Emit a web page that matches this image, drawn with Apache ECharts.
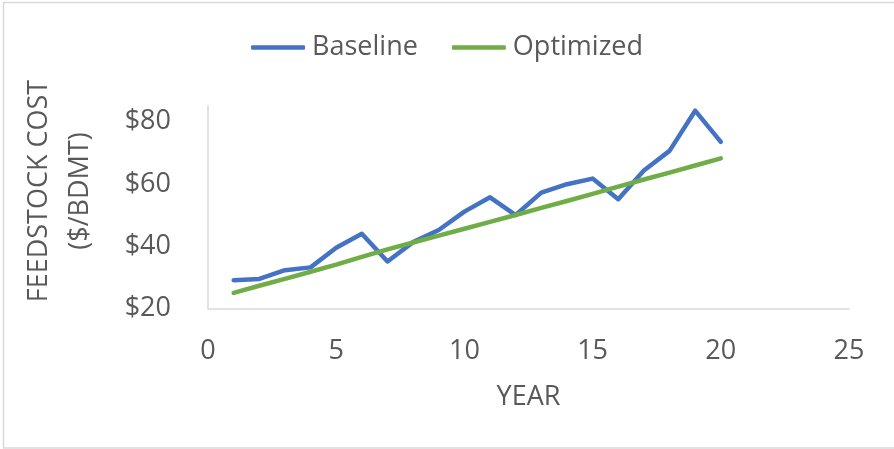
<!DOCTYPE html>
<html>
<head>
<meta charset="utf-8">
<script src="https://cdn.jsdelivr.net/npm/echarts@6/dist/echarts.min.js"></script>
<style>
  html, body { margin: 0; padding: 0; background: #fff; }
  #chart { width: 894px; height: 449px; }
</style>
</head>
<body>
<div id="chart"></div>
<script>
// Feedstock cost per bone-dry metric ton, by project year
const years = [1, 2, 3, 4, 5, 6, 7, 8, 9, 10, 11, 12, 13, 14, 15, 16, 17, 18, 19, 20];
const baseline = [29.1, 29.5, 32.3, 33.2, 39.5, 44.0, 35.1, 41.3, 45.2, 51.1, 55.7, 50.0, 57.2, 59.9, 61.7, 55.1, 64.3, 70.6, 83.5, 73.5];
const optimized = [25.0, 27.3, 29.5, 31.8, 34.1, 36.6, 39.0, 41.2, 43.4, 45.6, 47.8, 50.0, 52.3, 54.5, 56.8, 59.1, 61.4, 63.6, 65.9, 68.2];
const seriesNames = ['Baseline', 'Optimized'];
const yTicks = [20, 40, 60, 80];

const FONT = '"Open Sans", "Noto Sans", sans-serif';
const TEXT = '#595959';
const AXIS = '#d9d9d9';

const pairs = (ys) => years.map((x, i) => [x, ys[i]]);

const chart = echarts.init(document.getElementById('chart'), null, { renderer: 'canvas' });
chart.setOption({
  animation: false,
  backgroundColor: '#fff',
  textStyle: { fontFamily: FONT, color: TEXT },
  graphic: [
    {
      type: 'rect',
      shape: { x: 3.5, y: 2.5, width: 900, height: 445.5 },
      style: { fill: 'none', stroke: AXIS, lineWidth: 1.5 },
      silent: true
    },
    {
      type: 'text',
      x: 60, y: 191,
      rotation: Math.PI / 2,
      style: {
        text: 'FEEDSTOCK COST\n($/BDMT)',
        font: '27px ' + FONT,
        fill: TEXT,
        align: 'center',
        verticalAlign: 'middle',
        lineHeight: 41
      }
    }
  ],
  legend: {
    top: 29,
    left: 'center',
    icon: 'roundRect',
    itemWidth: 54,
    itemHeight: 4.5,
    itemGap: 34,
    textStyle: { fontFamily: FONT, fontSize: 27, color: TEXT, padding: [0, 0, 0, 2] },
    data: seriesNames
  },
  grid: { left: 208, right: 45, top: 106, bottom: 140.5 },
  xAxis: {
    type: 'value',
    min: 0, max: 25, interval: 5,
    name: 'YEAR',
    nameLocation: 'middle',
    nameGap: 75,
    nameTextStyle: { fontFamily: FONT, fontSize: 27, color: TEXT },
    axisLine: { show: true, lineStyle: { color: AXIS, width: 1.5 } },
    axisTick: { show: false },
    splitLine: { show: false },
    axisLabel: { fontFamily: FONT, fontSize: 27, color: TEXT, margin: 29 }
  },
  yAxis: {
    type: 'value',
    min: 20, max: 85, interval: 20,
    axisLine: { show: true, lineStyle: { color: AXIS, width: 1.5 } },
    axisTick: { show: false },
    splitLine: { show: false },
    axisLabel: {
      fontFamily: FONT, fontSize: 27, color: TEXT, margin: 37,
      padding: [7, 0, 0, 0],
      formatter: (v) => (yTicks.includes(v) ? '$' + v : '')
    }
  },
  series: [
    {
      name: seriesNames[0],
      type: 'line',
      data: pairs(baseline),
      symbol: 'none',
      lineStyle: { color: '#4472C4', width: 4.5, cap: 'round', join: 'round' },
      itemStyle: { color: '#4472C4' }
    },
    {
      name: seriesNames[1],
      type: 'line',
      data: pairs(optimized),
      symbol: 'none',
      lineStyle: { color: '#70AD47', width: 4.5, cap: 'round', join: 'round' },
      itemStyle: { color: '#70AD47' }
    }
  ]
});
</script>
</body>
</html>
